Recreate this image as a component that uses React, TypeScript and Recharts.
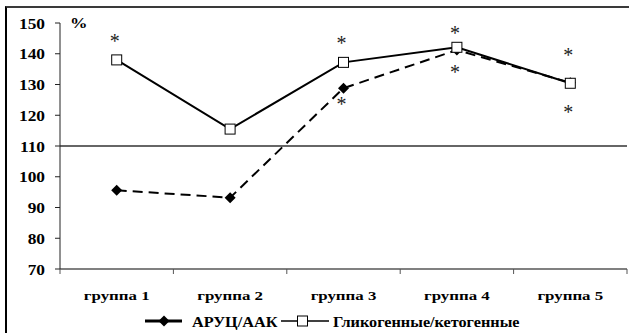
import React from "react";
import {
  LineChart,
  Line,
  XAxis,
  YAxis,
  ReferenceLine,
  Legend,
  Label,
} from "recharts";

const groups = ["группа 1", "группа 2", "группа 3", "группа 4", "группа 5"];
const groupIndex = [1, 2, 3, 4, 5];
const arucAak = [95.6, 93.2, 128.8, 141.2, 130.6];
const glycoKeto = [138, 115.5, 137.2, 142.1, 130.4];
// significance marks (*), placed at these values
const starsAbove = [144.5, null, 144.1, 147.1, 140.2];
const starsBelow = [null, null, 124.3, 134.4, 121.4];
const yTicks = [70, 80, 90, 100, 110, 120, 130, 140, 150];
const boundaryTicks = [0.5, 1.5, 2.5, 3.5, 4.5, 5.5];
const baseLevel = 110;
const seriesNames = ["АРУЦ/ААК", "Гликогенные/кетогенные"];

const data = groups.map((g, i) => ({
  x: groupIndex[i],
  name: g,
  aruc: arucAak[i],
  glyco: glycoKeto[i],
  above: starsAbove[i],
  below: starsBelow[i],
}));

const FONT = '"Liberation Serif", "Times New Roman", serif';

const YTick = ({ x, y, payload }: any) => (
  <g transform={`translate(${x},${y}) scale(1.12,1)`}>
    <text x={0} y={5.5} textAnchor="end" fontFamily={FONT} fontWeight="bold" fontSize={15.5} fill="#000">
      {payload.value}
    </text>
  </g>
);

const XLabelTick = ({ x, y, payload }: any) => (
  <g transform={`translate(${x},${y + 23}) scale(1.25,1)`}>
    <text x={0} y={0} textAnchor="middle" fontFamily={FONT} fontWeight="bold" fontSize={13.5} fill="#000">
      {groups[payload.value - 1]}
    </text>
  </g>
);

const EmptyTick = () => <g />;

const Diamond = ({ cx, cy, index }: any) => {
  if (cx == null || cy == null) return <g key={`d${index}`} />;
  const r = 5.5;
  return (
    <polygon
      key={`d${index}`}
      points={`${cx},${cy - r} ${cx + r},${cy} ${cx},${cy + r} ${cx - r},${cy}`}
      fill="#000"
    />
  );
};

const Square = ({ cx, cy, index }: any) => {
  if (cx == null || cy == null) return <g key={`s${index}`} />;
  return <rect key={`s${index}`} x={cx - 5} y={cy - 5} width={10} height={10} fill="#fff" stroke="#000" strokeWidth={1} />;
};

const Star = ({ cx, cy, index, value }: any) => {
  if (cx == null || cy == null || value == null) return <g key={`st${index}`} />;
  return (
    <text key={`st${index}`} x={cx - 2} y={cy + 8.5} textAnchor="middle" fontFamily={FONT} fontSize={20} fill="#222">
      *
    </text>
  );
};

const LegendBox = () => (
  <svg width={627} height={22} style={{ display: "block" }}>
    <line x1={145} y1={11} x2={182} y2={11} stroke="#000" strokeWidth={3} />
    <polygon points="164,5.5 169.5,11 164,16.5 158.5,11" fill="#000" />
    <g transform="translate(192,16.5) scale(1.12,1)">
      <text fontFamily={FONT} fontWeight="bold" fontSize={14.5} fill="#000">
        {seriesNames[0]}
      </text>
    </g>
    <line x1={281} y1={11} x2={329} y2={11} stroke="#000" strokeWidth={1.5} />
    <rect x={297.5} y={6} width={10} height={10} fill="#fff" stroke="#000" strokeWidth={1} />
    <g transform="translate(333,16.5) scale(1.12,1)">
      <text fontFamily={FONT} fontWeight="bold" fontSize={14.5} fill="#000">
        {seriesNames[1]}
      </text>
    </g>
  </svg>
);

const PercentLabel = ({ viewBox }: any) => (
  <g transform={`translate(${viewBox.x + viewBox.width + 10},${viewBox.y + 5}) scale(1.13,1)`}>
    <text fontFamily={FONT} fontWeight="bold" fontSize={15.5} fill="#000">
      %
    </text>
  </g>
);

export default function App() {
  return (
    <div style={{ position: "relative", width: 629, height: 333, background: "#fff" }}>
      <style>{`body{margin:0}`}</style>
      <div
        style={{
          position: "absolute",
          left: 5,
          top: 6,
          right: -4,
          bottom: -4,
          borderTop: "2px solid #3a3a3a",
          borderLeft: "2px solid #000",
        }}
      />
      <LineChart
        width={629}
        height={333}
        data={data}
        margin={{ top: 23, right: 2, bottom: 1, left: 0 }}
        style={{ position: "absolute", left: 0, top: 0 }}
      >
        <XAxis
          dataKey="x"
          type="number"
          domain={[0.5, 5.5]}
          ticks={boundaryTicks}
          tick={<EmptyTick />}
          tickSize={5}
          height={8}
          axisLine={{ stroke: "#808080", strokeWidth: 2 }}
          tickLine={{ stroke: "#555", strokeWidth: 1 }}
        />
        <XAxis
          xAxisId="lab"
          dataKey="x"
          type="number"
          domain={[0.5, 5.5]}
          ticks={groupIndex}
          tick={<XLabelTick />}
          tickSize={0}
          tickMargin={0}
          height={33}
          axisLine={false}
          tickLine={false}
        />
        <YAxis
          type="number"
          domain={[70, 150]}
          ticks={yTicks}
          width={60}
          tickSize={5}
          tickMargin={10}
          tick={<YTick />}
          axisLine={{ stroke: "#222", strokeWidth: 1 }}
          tickLine={{ stroke: "#222", strokeWidth: 1 }}
        >
          <Label content={<PercentLabel />} />
        </YAxis>
        <ReferenceLine y={baseLevel} stroke="#333" strokeWidth={1.5} />
        <Legend verticalAlign="bottom" content={() => <LegendBox />} />
        <Line
          dataKey="aruc"
          name={seriesNames[0]}
          stroke="#000"
          strokeWidth={2}
          strokeDasharray="10 6"
          dot={<Diamond />}
          activeDot={false}
          isAnimationActive={false}
        />
        <Line
          dataKey="glyco"
          name={seriesNames[1]}
          stroke="#000"
          strokeWidth={2}
          dot={<Square />}
          activeDot={false}
          isAnimationActive={false}
        />
        <Line
          dataKey="above"
          stroke="none"
          dot={<Star />}
          activeDot={false}
          legendType="none"
          isAnimationActive={false}
        />
        <Line
          dataKey="below"
          stroke="none"
          dot={<Star />}
          activeDot={false}
          legendType="none"
          isAnimationActive={false}
        />
      </LineChart>
    </div>
  );
}
